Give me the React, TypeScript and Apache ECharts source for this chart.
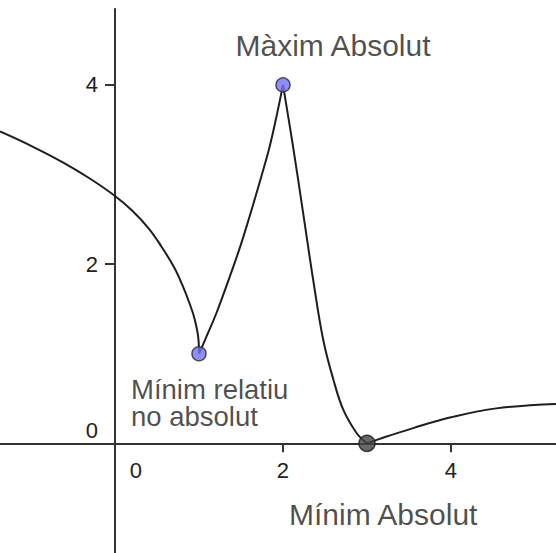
import React, { useEffect, useRef } from "react";
import * as echarts from "echarts";

// Axis extents and ticks
const xRange = [-1.369, 5.25];
const yRange = [-1.224, 4.847];
const xTickValues = [2, 4];
const yTickValues = [2, 4];
const xLabelValues = [0, 2, 4];
const yLabelValues = [0, 2, 4];

// Curve branches
const leftBranch = [
  [-1.369, 3.48], [-1.0, 3.32], [-0.6, 3.125], [-0.3, 2.955], [0, 2.76],
  [0.2, 2.6], [0.4, 2.4], [0.55, 2.2], [0.7, 1.97], [0.8, 1.77],
  [0.9, 1.53], [0.95, 1.38], [0.99, 1.19], [1, 1],
];
const risingBranch = [
  [1, 1], [1.07, 1.15], [1.21, 1.46], [1.37, 1.87], [1.53, 2.31], [1.81, 3.2], [1.9, 3.55], [2, 4],
];
const fallingBranch = [
  [2, 4], [2.12, 3.31], [2.24, 2.57], [2.36, 1.82], [2.48, 1.15], [2.6, 0.71],
  [2.72, 0.37], [2.88, 0.11], [3, 0],
];
const rightBranch = [
  [3, 0], [3.15, 0.05], [3.55, 0.17], [4, 0.29], [4.54, 0.39], [5.25, 0.44],
];

// Key points
const maxPoint = [2, 4];
const relMinPoint = [1, 1];
const absMinPoint = [3, 0];
const maxLabel = "Màxim Absolut";
const relMinLabel = "Mínim relatiu\nno absolut";
const absMinLabel = "Mínim Absolut";

const FONT = '"Liberation Sans", Arial, sans-serif';
const AXIS_COLOR = "#333";
const TEXT_COLOR = "#1f1f1f";
const TICK_TEXT = "#222";
const CURVE_COLOR = "#1e1e1e";

const W = 556;
const H = 553;
const GRID_TOP = 9;

export default function App() {
  const ref = useRef<HTMLDivElement>(null);
  useEffect(() => {
    if (!ref.current) return;
    const chart = echarts.init(ref.current, null, { renderer: "svg" });
    // position the axes where the value 0 of the other axis falls
    const gridH = H - GRID_TOP;
    const xAxisOffset = -((0 - yRange[0]) / (yRange[1] - yRange[0])) * gridH;
    const yAxisOffset = -((0 - xRange[0]) / (xRange[1] - xRange[0])) * W;
    const branchSeries = [leftBranch, risingBranch, fallingBranch, rightBranch].map((d) => ({
      type: "line",
      data: d,
      smooth: 0.4,
      showSymbol: false,
      symbol: "none",
      lineStyle: { color: CURVE_COLOR, width: 2 },
      z: 3,
    }));
    chart.setOption({
      animation: false,
      backgroundColor: "#ffffff",
      grid: { left: 0, right: 0, top: GRID_TOP, bottom: 0, containLabel: false, outerBoundsMode: "none" },
      xAxis: {
        type: "value",
        min: xRange[0],
        max: xRange[1],
        offset: xAxisOffset,
        splitLine: { show: false },
        axisLine: { show: true, onZero: false, lineStyle: { color: AXIS_COLOR, width: 2 } },
        axisTick: { show: true, customValues: xTickValues, length: 9, lineStyle: { color: AXIS_COLOR, width: 2 } },
        axisLabel: {
          show: true,
          customValues: xLabelValues,
          margin: 16,
          color: TICK_TEXT,
          fontSize: 22,
          fontFamily: FONT,
          formatter: (v: number) => (v === 0 ? "{z|0}" : String(v)),
          rich: { z: { padding: [0, 0, 0, 42], fontSize: 22, fontFamily: FONT, color: TICK_TEXT } },
        },
      },
      yAxis: {
        type: "value",
        min: yRange[0],
        max: yRange[1],
        offset: yAxisOffset,
        splitLine: { show: false },
        axisLine: { show: true, onZero: false, lineStyle: { color: AXIS_COLOR, width: 2 } },
        axisTick: { show: true, customValues: yTickValues, length: 10, lineStyle: { color: AXIS_COLOR, width: 2 } },
        axisLabel: {
          show: true,
          customValues: yLabelValues,
          margin: 17,
          color: TICK_TEXT,
          fontSize: 22,
          fontFamily: FONT,
          formatter: (v: number) => (v === 0 ? "{z|0}" : String(v)),
          rich: { z: { padding: [0, 0, 26, 0], fontSize: 22, fontFamily: FONT, color: TICK_TEXT } },
        },
      },
      series: [
        ...branchSeries,
        {
          type: "scatter",
          z: 5,
          data: [
            {
              value: maxPoint,
              symbolSize: 14,
              itemStyle: { color: "#7272F4", borderColor: "#2a2a2a", borderWidth: 1.5 },
              label: {
                show: true,
                formatter: maxLabel,
                position: "top",
                distance: 17,
                offset: [50, 0],
                fontSize: 30,
                fontFamily: FONT,
                color: TEXT_COLOR,
              },
            },
            {
              value: relMinPoint,
              symbolSize: 14,
              itemStyle: { color: "#7272F4", borderColor: "#2a2a2a", borderWidth: 1.5 },
              label: {
                show: true,
                formatter: relMinLabel,
                position: "bottom",
                align: "left",
                distance: 15,
                offset: [-68, 0],
                fontSize: 27.5,
                lineHeight: 27,
                fontFamily: FONT,
                color: TEXT_COLOR,
              },
            },
            {
              value: absMinPoint,
              symbolSize: 16,
              itemStyle: { color: "#444444", borderColor: "#1a1a1a", borderWidth: 1.5 },
              label: {
                show: true,
                formatter: absMinLabel,
                position: "bottom",
                align: "left",
                distance: 47,
                offset: [-78, 0],
                fontSize: 30,
                fontFamily: FONT,
                color: TEXT_COLOR,
              },
            },
          ],
        },
      ],
    });
    return () => chart.dispose();
  }, []);
  return (
    <div
      ref={ref}
      style={{ position: "fixed", left: 0, top: 0, width: W, height: H, background: "#fff" }}
    />
  );
}
